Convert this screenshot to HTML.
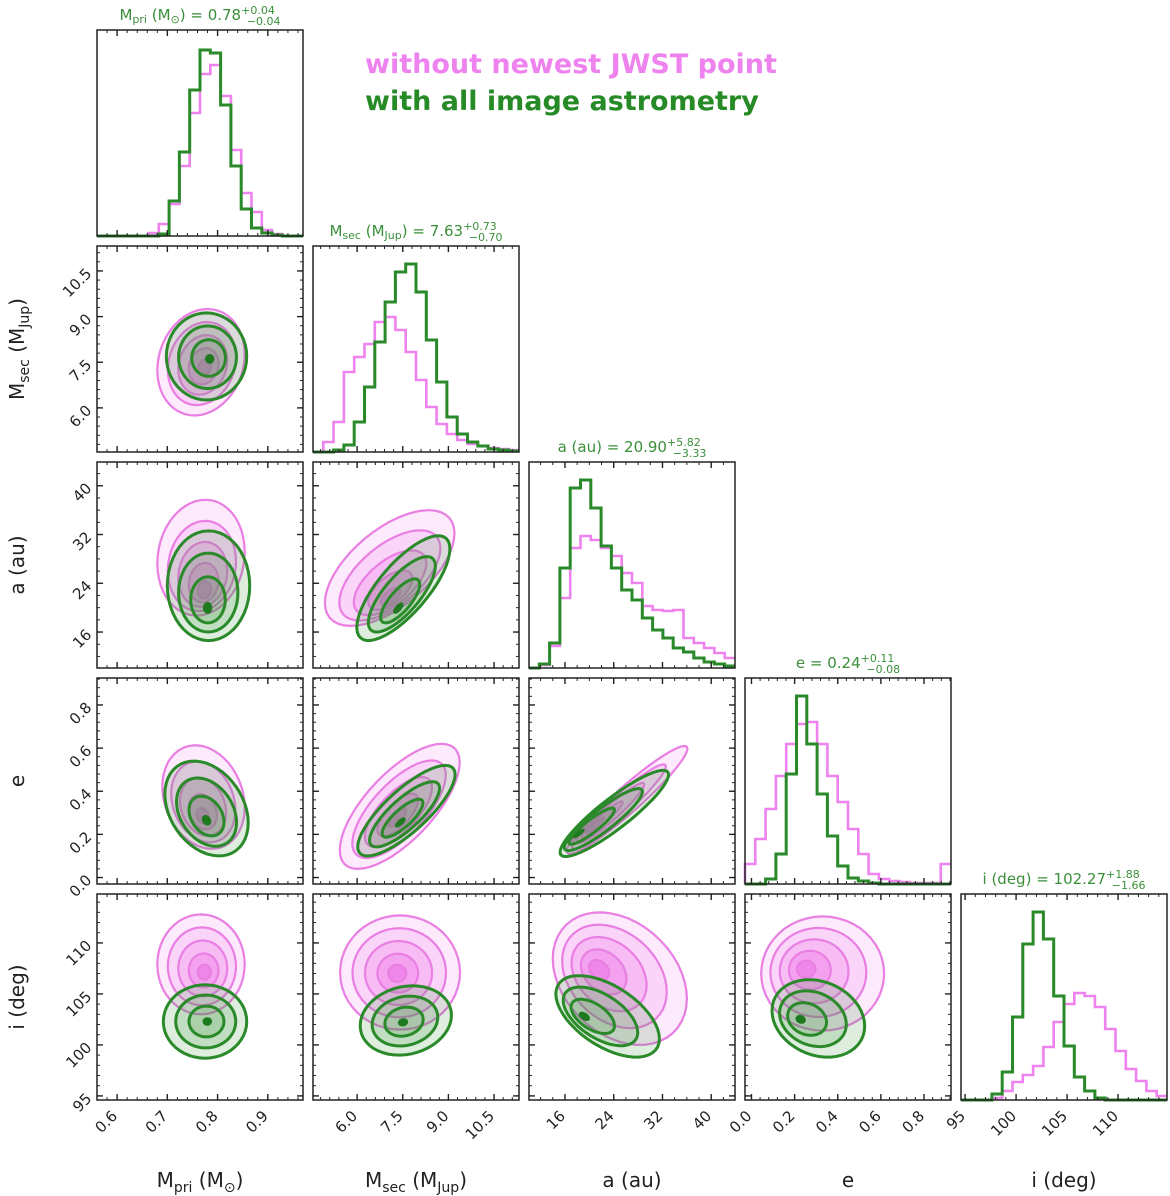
<!DOCTYPE html>
<html><head><meta charset="utf-8"><style>
body{margin:0;background:#fff;}
svg{display:block;font-family:"DejaVu Sans","Liberation Sans",sans-serif;}
</style></head><body>
<svg id="fig" width="1170" height="1196" viewBox="0 0 1170 1196" xmlns="http://www.w3.org/2000/svg">
<text x="365" y="73" font-size="27" font-weight="bold" fill="#ee82ee">without newest JWST point</text>
<text x="365" y="110" font-size="27" font-weight="bold" fill="#268a26">with all image astrometry</text>
</svg>
<script>
const NS='http://www.w3.org/2000/svg';
const svg=document.getElementById('fig');
// parameter names and axis ranges
const paramNames=['Mpri','Msec','a','e','i'];
const rangeLo=[0.56,4.55,10.1,-0.03,94.6];
const rangeHi=[0.97,11.32,43.9,0.925,114.8];
const majorTicks=[[0.6,0.7,0.8,0.9],[6.0,7.5,9.0,10.5],[16,24,32,40],[0.0,0.2,0.4,0.6,0.8],[95,100,105,110]];
const tickLabels=[['0.6','0.7','0.8','0.9'],['6.0','7.5','9.0','10.5'],['16','24','32','40'],['0.0','0.2','0.4','0.6','0.8'],['95','100','105','110']];
const minorStep=[0.02,0.3,2,0.04,1];
// histogram counts (20 bins spanning each range)
const histPink=[
[0,0,0,0,0,3,12,32,70,123,162,171,140,86,43,24,6,2,0,0],
[0,10,30,80,95,108,130,135,122,100,72,45,28,18,12,8,6,4,3,2],
[0,3,22,70,120,132,128,120,112,95,85,62,58,57,58,30,25,20,15,10],
[20,45,75,108,140,160,162,140,108,82,55,30,10,5,3,2,1,1,1,20],
[0,0,0,2,9,18,25,34,53,78,96,107,104,93,71,49,31,19,9,4]];
const histGreen=[
[0,0,0,0,0,0,2,35,84,146,186,183,131,70,27,8,3,1,0,0],
[0,0,2,7,30,65,110,150,180,188,160,112,70,35,18,10,6,3,2,1],
[0,4,25,100,180,188,160,122,100,78,68,50,38,30,20,16,10,6,4,2],
[0,0,5,30,110,188,140,90,48,18,6,3,1,0,0,0,0,0,0,0],
[0,0,0,6,28,83,156,188,161,104,54,23,9,2,0,0,0,0,0,0]];
const histMax=206;
// 2D contour descriptions: [row,col]
const pairRC=[[1,0],[2,0],[2,1],[3,0],[3,1],[3,2],[4,0],[4,1],[4,2],[4,3]];
// pink: outer centre x, y, radius x, radius y, correlation, core x, core y
const pinkCx=[0.767,0.767,7.07,0.772,7.4,26.2,0.767,7.41,25,0.33];
const pinkCy=[7.5,28.2,26.5,0.373,0.33,0.36,107.9,107.1,106.5,107];
const pinkRx=[0.087,0.087,2.13,0.082,1.97,9.9,0.087,1.97,11,0.285];
const pinkRy=[1.75,9.5,9.5,0.24,0.29,0.25,4.9,5.6,6.5,5.6];
const pinkRho=[0.15,0.1,0.6,-0.2,0.7,0.95,0,0,-0.3,0];
const pinkCoreX=[0.775,0.775,7.1,0.77,7.3,20,0.775,7.3,21,0.24];
const pinkCoreY=[7.3,22,21,0.27,0.27,0.22,107,107,107.5,107.5];
// green
const greenCx=[0.778,0.782,7.52,0.778,7.62,24.1,0.775,7.6,23,0.31];
const greenCy=[7.69,23.6,23.2,0.32,0.31,0.297,102.3,102.4,102.8,102.6];
const greenRx=[0.08,0.082,1.53,0.083,1.6,8.9,0.083,1.5,8.5,0.215];
const greenRy=[1.43,9,8.6,0.22,0.21,0.2,3.6,3.4,4,3.8];
const greenRho=[0,0,0.75,-0.3,0.8,0.9,0,0.15,-0.55,-0.2];
const greenCoreX=[0.785,0.78,7.34,0.778,7.4,17.7,0.78,7.5,18.8,0.22];
const greenCoreY=[7.6,19.6,19.6,0.26,0.25,0.195,102.3,102.2,102.8,102.5];
const titleMain=['M','M','a (au) = 20.90','e = 0.24','i (deg) = 102.27'];
const titlePlus=['+0.04','+0.73','+5.82','+0.11','+1.88'];
const titleMinus=['\u22120.04','\u22120.70','\u22123.33','\u22120.08','\u22121.66'];

const X0=97,Y0=30,S=206,STEP=216;
const PINK='#ee82ee',GREEN='#2a8a2a';
const pinkFills=['#fdeafc','#fbd4f9','#f8bcf4','#f4a2ef','#ef86e9'];
const pinkScales=[1,0.78,0.56,0.34,0.15];
const greenScales=[1,0.72,0.42];
function el(tag,attrs,parent){const e=document.createElementNS(NS,tag);for(const k in attrs)e.setAttribute(k,attrs[k]);(parent||svg).appendChild(e);return e;}
function sx(p,c,v){return X0+c*STEP+(v-rangeLo[p])/(rangeHi[p]-rangeLo[p])*S;}
function sy(p,r,v){return Y0+r*STEP+S-(v-rangeLo[p])/(rangeHi[p]-rangeLo[p])*S;}
function hy(r,v){return Y0+r*STEP+S-v/histMax*S;}

function ellPath(px,py,r,c,cx,cy,rx,ry,rho,corex,corey,s){
  const ccx=corex+s*(cx-corex),ccy=corey+s*(cy-corey);
  let d='';const q=Math.sqrt(1-rho*rho);
  for(let k=0;k<=48;k++){const t=k/48*2*Math.PI;
    const xv=ccx+s*rx*Math.cos(t), yv=ccy+s*ry*(rho*Math.cos(t)+q*Math.sin(t));
    d+=(k?'L':'M')+sx(px,c,xv).toFixed(1)+','+sy(py,r,yv).toFixed(1);}
  return d+'Z';
}

function drawTicks(g,r,c,px,py){
  const x0=X0+c*STEP,y0=Y0+r*STEP;
  const drawX=(p)=>{const lo=rangeLo[p],hi=rangeHi[p];
    for(let v=Math.ceil(lo/minorStep[p])*minorStep[p];v<=hi;v+=minorStep[p]){const x=sx(p,c,v);
      el('line',{x1:x,y1:y0+S,x2:x,y2:y0+S-3,stroke:'#222','stroke-width':1},g);
      el('line',{x1:x,y1:y0,x2:x,y2:y0+3,stroke:'#222','stroke-width':1},g);}
    majorTicks[p].forEach(v=>{const x=sx(p,c,v);
      el('line',{x1:x,y1:y0+S,x2:x,y2:y0+S-6,stroke:'#222','stroke-width':1.4},g);
      el('line',{x1:x,y1:y0,x2:x,y2:y0+6,stroke:'#222','stroke-width':1.4},g);});};
  drawX(px);
  if(py!==null){const p=py,lo=rangeLo[p],hi=rangeHi[p];
    for(let v=Math.ceil(lo/minorStep[p])*minorStep[p];v<=hi;v+=minorStep[p]){const y=sy(p,r,v);
      el('line',{x1:x0,y1:y,x2:x0+3,y2:y,stroke:'#222','stroke-width':1},g);
      el('line',{x1:x0+S,y1:y,x2:x0+S-3,y2:y,stroke:'#222','stroke-width':1},g);}
    majorTicks[p].forEach(v=>{const y=sy(p,r,v);
      el('line',{x1:x0,y1:y,x2:x0+6,y2:y,stroke:'#222','stroke-width':1.4},g);
      el('line',{x1:x0+S,y1:y,x2:x0+S-6,y2:y,stroke:'#222','stroke-width':1.4},g);});}
}

// diagonal histograms
for(let d=0;d<5;d++){
  const g=el('g',{});
  
  
  const x0=X0+d*STEP,y0=Y0+d*STEP;
  const bw=(rangeHi[d]-rangeLo[d])/20;
  [[histPink[d],PINK,2.6],[histGreen[d],GREEN,3]].forEach(([h,col,w],si)=>{
    let pts='M'+sx(d,d,rangeLo[d])+','+hy(d,0);
    h.forEach((v,k)=>{const xa=sx(d,d,rangeLo[d]+k*bw),xb=sx(d,d,rangeLo[d]+(k+1)*bw);
      pts+='L'+xa.toFixed(1)+','+hy(d,v).toFixed(1)+'L'+xb.toFixed(1)+','+hy(d,v).toFixed(1);});
    const p=el('path',{d:pts,fill:'none',stroke:col,'stroke-width':w},g);
    
    
  });
  el('rect',{x:x0,y:y0,width:S,height:S,fill:'none',stroke:'#222','stroke-width':1.5},g);
  drawTicks(g,d,d,d,null);
  const t=el('text',{x:x0+S/2,y:y0-10,'text-anchor':'middle','font-size':15,fill:'#3a8f3a'},g);
  
  
  if(d===0){t.innerHTML='M<tspan font-size="11" dy="3">pri</tspan><tspan dy="-3"> (M</tspan><tspan font-size="11" dy="3">⊙</tspan><tspan dy="-3">) = 0.78</tspan>';}
  else if(d===1){t.innerHTML='M<tspan font-size="11" dy="3">sec</tspan><tspan dy="-3"> (M</tspan><tspan font-size="11" dy="3">Jup</tspan><tspan dy="-3">) = 7.63</tspan>';}
  else t.textContent=titleMain[d];
  t.innerHTML+='<tspan font-size="11" dy="-6">'+titlePlus[d]+'</tspan><tspan font-size="11" dx="-28" dy="11">'+titleMinus[d]+'</tspan>';
}

// 2D panels
pairRC.forEach(([r,c],i)=>{
  const g=el('g',{});
  
  
  const x0=X0+c*STEP,y0=Y0+r*STEP;
  const cid='clip'+i;
  const cp=el('clipPath',{id:cid},g);el('rect',{x:x0,y:y0,width:S,height:S},cp);
  const cg=el('g',{'clip-path':'url(#'+cid+')'},g);
  pinkScales.forEach((s,k)=>{
    const p=el('path',{d:ellPath(c,r,r,c,pinkCx[i],pinkCy[i],pinkRx[i],pinkRy[i],pinkRho[i],pinkCoreX[i],pinkCoreY[i],s),fill:pinkFills[k],stroke:'#e97ee3','stroke-width':2.2},cg);
    
    
  });
  greenScales.forEach((s,k)=>{
    const p=el('path',{d:ellPath(c,r,r,c,greenCx[i],greenCy[i],greenRx[i],greenRy[i],greenRho[i],greenCoreX[i],greenCoreY[i],s),fill:'rgba(60,150,60,0.17)',stroke:GREEN,'stroke-width':3},cg);
    
    
  });
  const core=el('path',{d:ellPath(c,r,r,c,greenCx[i],greenCy[i],greenRx[i],greenRy[i],greenRho[i],greenCoreX[i],greenCoreY[i],0.09),fill:'#1f7a1f',stroke:'#1f7a1f','stroke-width':2},cg);
  
  
  el('rect',{x:x0,y:y0,width:S,height:S,fill:'none',stroke:'#222','stroke-width':1.5},g);
  drawTicks(g,r,c,c,r);
});

// tick labels
for(let c=0;c<5;c++){
  majorTicks[c].forEach((v,k)=>{const x=sx(c,c,v),y=Y0+4*STEP+S+14;
    const t=el('text',{x:x,y:y,'text-anchor':'end','font-size':15,fill:'#222',transform:'rotate(-45 '+(x+4)+' '+y+')'});
    
    
    t.textContent=tickLabels[c][k];});
}
for(let r=1;r<5;r++){
  majorTicks[r].forEach((v,k)=>{const y=sy(r,r,v),x=X0-8;
    const t=el('text',{x:x,y:y+5,'text-anchor':'end','font-size':15,fill:'#222',transform:'rotate(-45 '+x+' '+y+')'});
    
    
    t.textContent=tickLabels[r][k];});
}
// axis titles
const xl=[
 'M<tspan font-size="14" dy="5">pri</tspan><tspan dy="-5"> (M</tspan><tspan font-size="14" dy="5">⊙</tspan><tspan dy="-5">)</tspan>',
 'M<tspan font-size="14" dy="5">sec</tspan><tspan dy="-5"> (M</tspan><tspan font-size="14" dy="5">Jup</tspan><tspan dy="-5">)</tspan>',
 'a (au)','e','i (deg)'];
xl.forEach((h,c)=>{const t=el('text',{x:X0+c*STEP+S/2,y:1187,'text-anchor':'middle','font-size':20,fill:'#222'});
  
  
  t.innerHTML=h;});
for(let r=1;r<5;r++){const yc=Y0+r*STEP+S/2;
  const t=el('text',{x:24,y:yc,'text-anchor':'middle','font-size':20,fill:'#222',transform:'rotate(-90 24 '+yc+')'});
  
  
  t.innerHTML=xl[r];}
</script>
</body></html>
